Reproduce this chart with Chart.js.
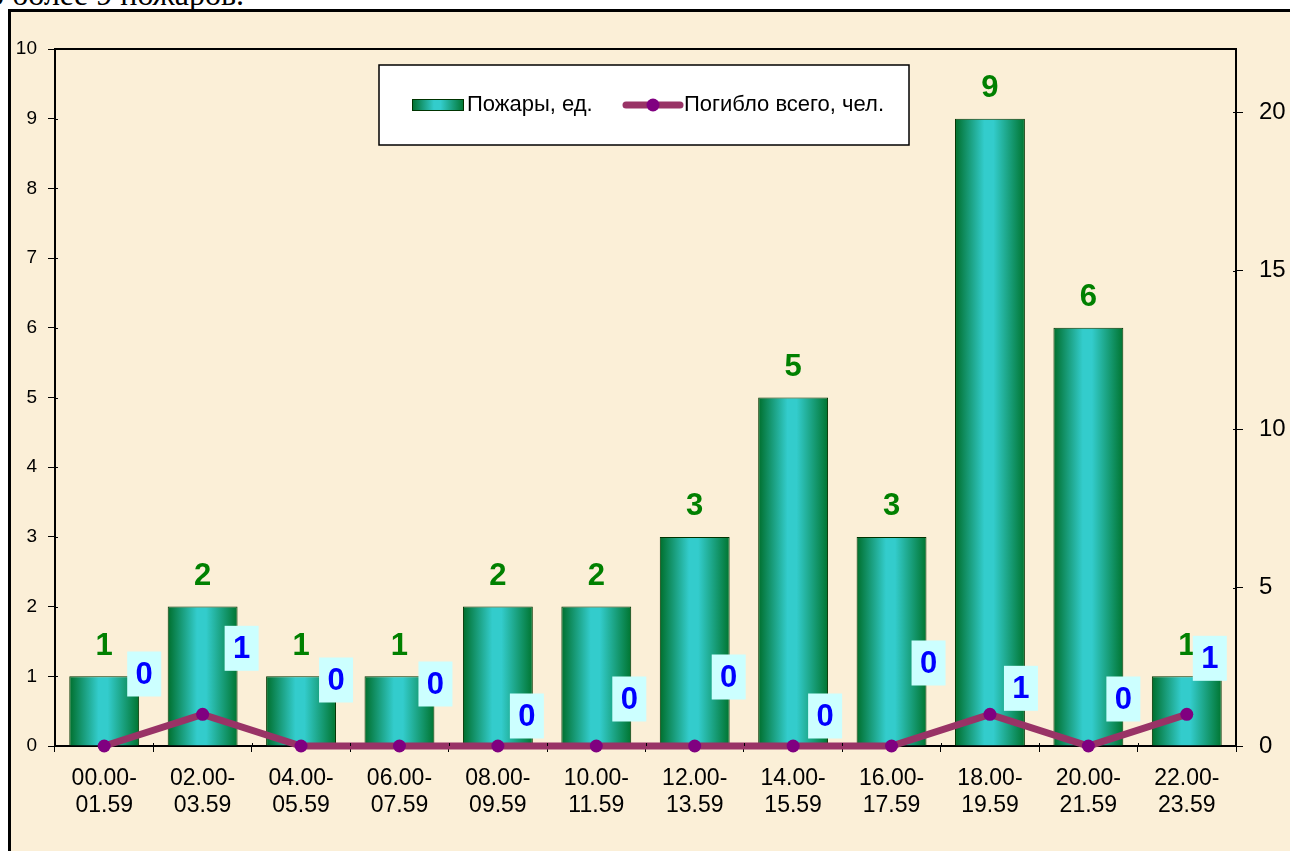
<!DOCTYPE html>
<html>
<head>
<meta charset="utf-8">
<script src="https://cdn.jsdelivr.net/npm/chart.js@4.4.1/dist/chart.umd.min.js"></script>
<style>
  html, body { margin: 0; padding: 0; background: #ffffff; overflow: hidden; }
  #page { position: relative; width: 1290px; height: 851px; overflow: hidden; }
  #caption {
    position: absolute; right: 1046px; top: -22px;
    font-family: "Liberation Serif", "Times New Roman", serif;
    font-size: 32px; line-height: 32px; white-space: nowrap; color: #000;
  }
  #frame {
    position: absolute; left: 8px; top: 9px; width: 1300px; height: 860px;
    border-left: 3px solid #000; border-top: 3px solid #000;
    background: #fbefd7;
  }
  #chart { position: absolute; left: 0; top: 0; }
</style>
</head>
<body>
<div id="page">
  <div id="caption">зарегистрировано более 9 пожаров.</div>
  <div id="frame"></div>
  <canvas id="chart" width="1290" height="851"></canvas>
</div>
<script>
// Chart data
const categories = [
  ['00.00-', '01.59'], ['02.00-', '03.59'], ['04.00-', '05.59'], ['06.00-', '07.59'],
  ['08.00-', '09.59'], ['10.00-', '11.59'], ['12.00-', '13.59'], ['14.00-', '15.59'],
  ['16.00-', '17.59'], ['18.00-', '19.59'], ['20.00-', '21.59'], ['22.00-', '23.59']
];
const fires = [1, 2, 1, 1, 2, 2, 3, 5, 3, 9, 6, 1];
const deaths = [0, 1, 0, 0, 0, 0, 0, 0, 0, 1, 0, 1];
const firesLabel = 'Пожары, ед.';
const deathsLabel = 'Погибло всего, чел.';

// label boxes of the line were moved by hand in the original, offsets in px from the point
const deathLabelOffsets = [
  [40, -72], [39, -66], [35, -66], [36, -62], [29, -30], [33, -47],
  [34, -69], [32, -30], [37, -83], [31, -26], [35, -47], [23, -56]
];

const FONT = "Arial, 'Liberation Sans', sans-serif";
const BAR_PCT = 0.71;
Chart.defaults.font.family = FONT;
Chart.defaults.color = '#000';

function barGradient(ctx, x0, x1) {
  const g = ctx.createLinearGradient(x0, 0, x1, 0);
  g.addColorStop(0, '#006f2c');
  g.addColorStop(0.42, '#33cccc');
  g.addColorStop(0.55, '#33cccc');
  g.addColorStop(1, '#007530');
  return g;
}

// Labels above bars and boxed labels on the line
const valueLabels = {
  id: 'valueLabels',
  afterDatasetsDraw(chart) {
    const ctx = chart.ctx;
    ctx.save();
    ctx.textAlign = 'center';
    ctx.textBaseline = 'middle';
    ctx.font = 'bold 31px ' + FONT;
    ctx.fillStyle = '#008000';
    chart.getDatasetMeta(0).data.forEach((bar, i) => {
      ctx.fillText(String(fires[i]), bar.x, bar.y - 30);
    });
    chart.getDatasetMeta(1).data.forEach((pt, i) => {
      const cx = pt.x + deathLabelOffsets[i][0];
      const cy = pt.y + deathLabelOffsets[i][1];
      ctx.fillStyle = '#ccffff';
      ctx.fillRect(cx - 17, cy - 22.5, 34, 45);
      ctx.fillStyle = '#0000ff';
      ctx.fillText(String(deaths[i]), cx, cy + 1);
    });
    ctx.restore();
  }
};

// Plot frame top line and tick marks crossing the axes
const frameTicks = {
  id: 'frameTicks',
  afterDatasetsDraw(chart) {
    const ctx = chart.ctx;
    const a = chart.chartArea;
    ctx.save();
    ctx.strokeStyle = '#000';
    ctx.lineWidth = 2;
    ctx.beginPath();
    ctx.moveTo(a.left - 1, a.top);
    ctx.lineTo(a.right + 1, a.top);
    ctx.stroke();
    ctx.lineWidth = 1;
    ctx.beginPath();
    chart.scales.y.ticks.forEach(t => {
      const y = Math.round(chart.scales.y.getPixelForValue(t.value)) + 0.5;
      ctx.moveTo(a.left, y); ctx.lineTo(a.left + 3, y);
    });
    chart.scales.y1.ticks.forEach(t => {
      const y = Math.round(chart.scales.y1.getPixelForValue(t.value)) + 0.5;
      ctx.moveTo(a.right - 3, y); ctx.lineTo(a.right, y);
    });
    const step = a.width / categories.length;
    for (let i = 0; i <= categories.length; i++) {
      const x = Math.round(a.left + i * step) + 0.5;
      ctx.moveTo(x, a.bottom - 3); ctx.lineTo(x, a.bottom);
    }
    ctx.stroke();
    ctx.restore();
  }
};

// Legend box placed inside the plot like in the original
const boxLegend = {
  id: 'boxLegend',
  afterDraw(chart) {
    const ctx = chart.ctx;
    ctx.save();
    ctx.fillStyle = '#ffffff';
    ctx.fillRect(379, 65, 530, 80);
    ctx.strokeStyle = '#000';
    ctx.lineWidth = 1.5;
    ctx.strokeRect(379, 65, 530, 80);

    ctx.fillStyle = barGradient(ctx, 412, 464);
    ctx.fillRect(412, 99, 52, 12);
    ctx.lineWidth = 1;
    ctx.strokeStyle = '#003300';
    ctx.strokeRect(412.5, 99.5, 51, 11);

    ctx.font = '22px ' + FONT;
    ctx.textBaseline = 'middle';
    ctx.textAlign = 'left';
    ctx.fillStyle = '#000';
    ctx.fillText(chart.data.datasets[0].label, 467, 105);

    ctx.strokeStyle = '#993366';
    ctx.lineWidth = 7;
    ctx.lineCap = 'round';
    ctx.beginPath();
    ctx.moveTo(626, 105);
    ctx.lineTo(680, 105);
    ctx.stroke();
    ctx.fillStyle = '#800080';
    ctx.beginPath();
    ctx.arc(653, 105, 6.5, 0, Math.PI * 2);
    ctx.fill();

    ctx.fillStyle = '#000';
    ctx.fillText(chart.data.datasets[1].label, 684, 105);
    ctx.restore();
  }
};

new Chart(document.getElementById('chart'), {
  type: 'bar',
  data: {
    labels: categories,
    datasets: [
      {
        label: firesLabel,
        data: fires,
        yAxisID: 'y',
        order: 2,
        barPercentage: BAR_PCT,
        categoryPercentage: 1,
        borderWidth: 1,
        borderColor: '#003300',
        backgroundColor: function(context) {
          const chart = context.chart;
          const area = chart.chartArea;
          if (!area || context.type !== 'data') return '#33cccc';
          const cx = chart.scales.x.getPixelForValue(context.dataIndex);
          const half = (area.width / categories.length) * BAR_PCT / 2;
          return barGradient(chart.ctx, cx - half, cx + half);
        }
      },
      {
        type: 'line',
        label: deathsLabel,
        data: deaths,
        yAxisID: 'y1',
        order: 1,
        clip: false,
        borderColor: '#993366',
        borderWidth: 7,
        tension: 0,
        pointRadius: 6.5,
        pointBackgroundColor: '#800080',
        pointBorderColor: '#800080',
        pointBorderWidth: 0
      }
    ]
  },
  options: {
    responsive: false,
    animation: false,
    devicePixelRatio: 1,
    layout: { padding: { top: 49, left: 0, right: 0, bottom: 0 } },
    scales: {
      x: {
        offset: true,
        grid: { offset: true, drawOnChartArea: false, drawTicks: true, tickLength: 6, color: '#000', lineWidth: 1 },
        border: { display: true, color: '#000', width: 2 },
        ticks: { font: { size: 23, lineHeight: 1.18 }, color: '#000', padding: 13, maxRotation: 0, autoSkip: false },
        afterFit(scale) { scale.height = 105; }
      },
      y: {
        position: 'left',
        min: 0,
        max: 10,
        ticks: { stepSize: 1, font: { size: 19 }, color: '#000', padding: 11 },
        grid: { drawOnChartArea: false, drawTicks: true, tickLength: 7, color: '#000', lineWidth: 1 },
        border: { display: true, color: '#000', width: 2 },
        afterFit(scale) { scale.width = 55; }
      },
      y1: {
        position: 'right',
        min: 0,
        max: 22,
        ticks: { stepSize: 5, font: { size: 24 }, color: '#000', padding: 16 },
        grid: { drawOnChartArea: false, drawTicks: true, tickLength: 7, color: '#000', lineWidth: 1 },
        border: { display: true, color: '#000', width: 2 },
        afterBuildTicks(scale) { scale.ticks = scale.ticks.filter(t => t.value % 5 === 0); },
        afterFit(scale) { scale.width = 54; }
      }
    },
    plugins: {
      legend: { display: false },
      tooltip: { enabled: false }
    }
  },
  plugins: [valueLabels, frameTicks, boxLegend]
});
</script>
</body>
</html>
